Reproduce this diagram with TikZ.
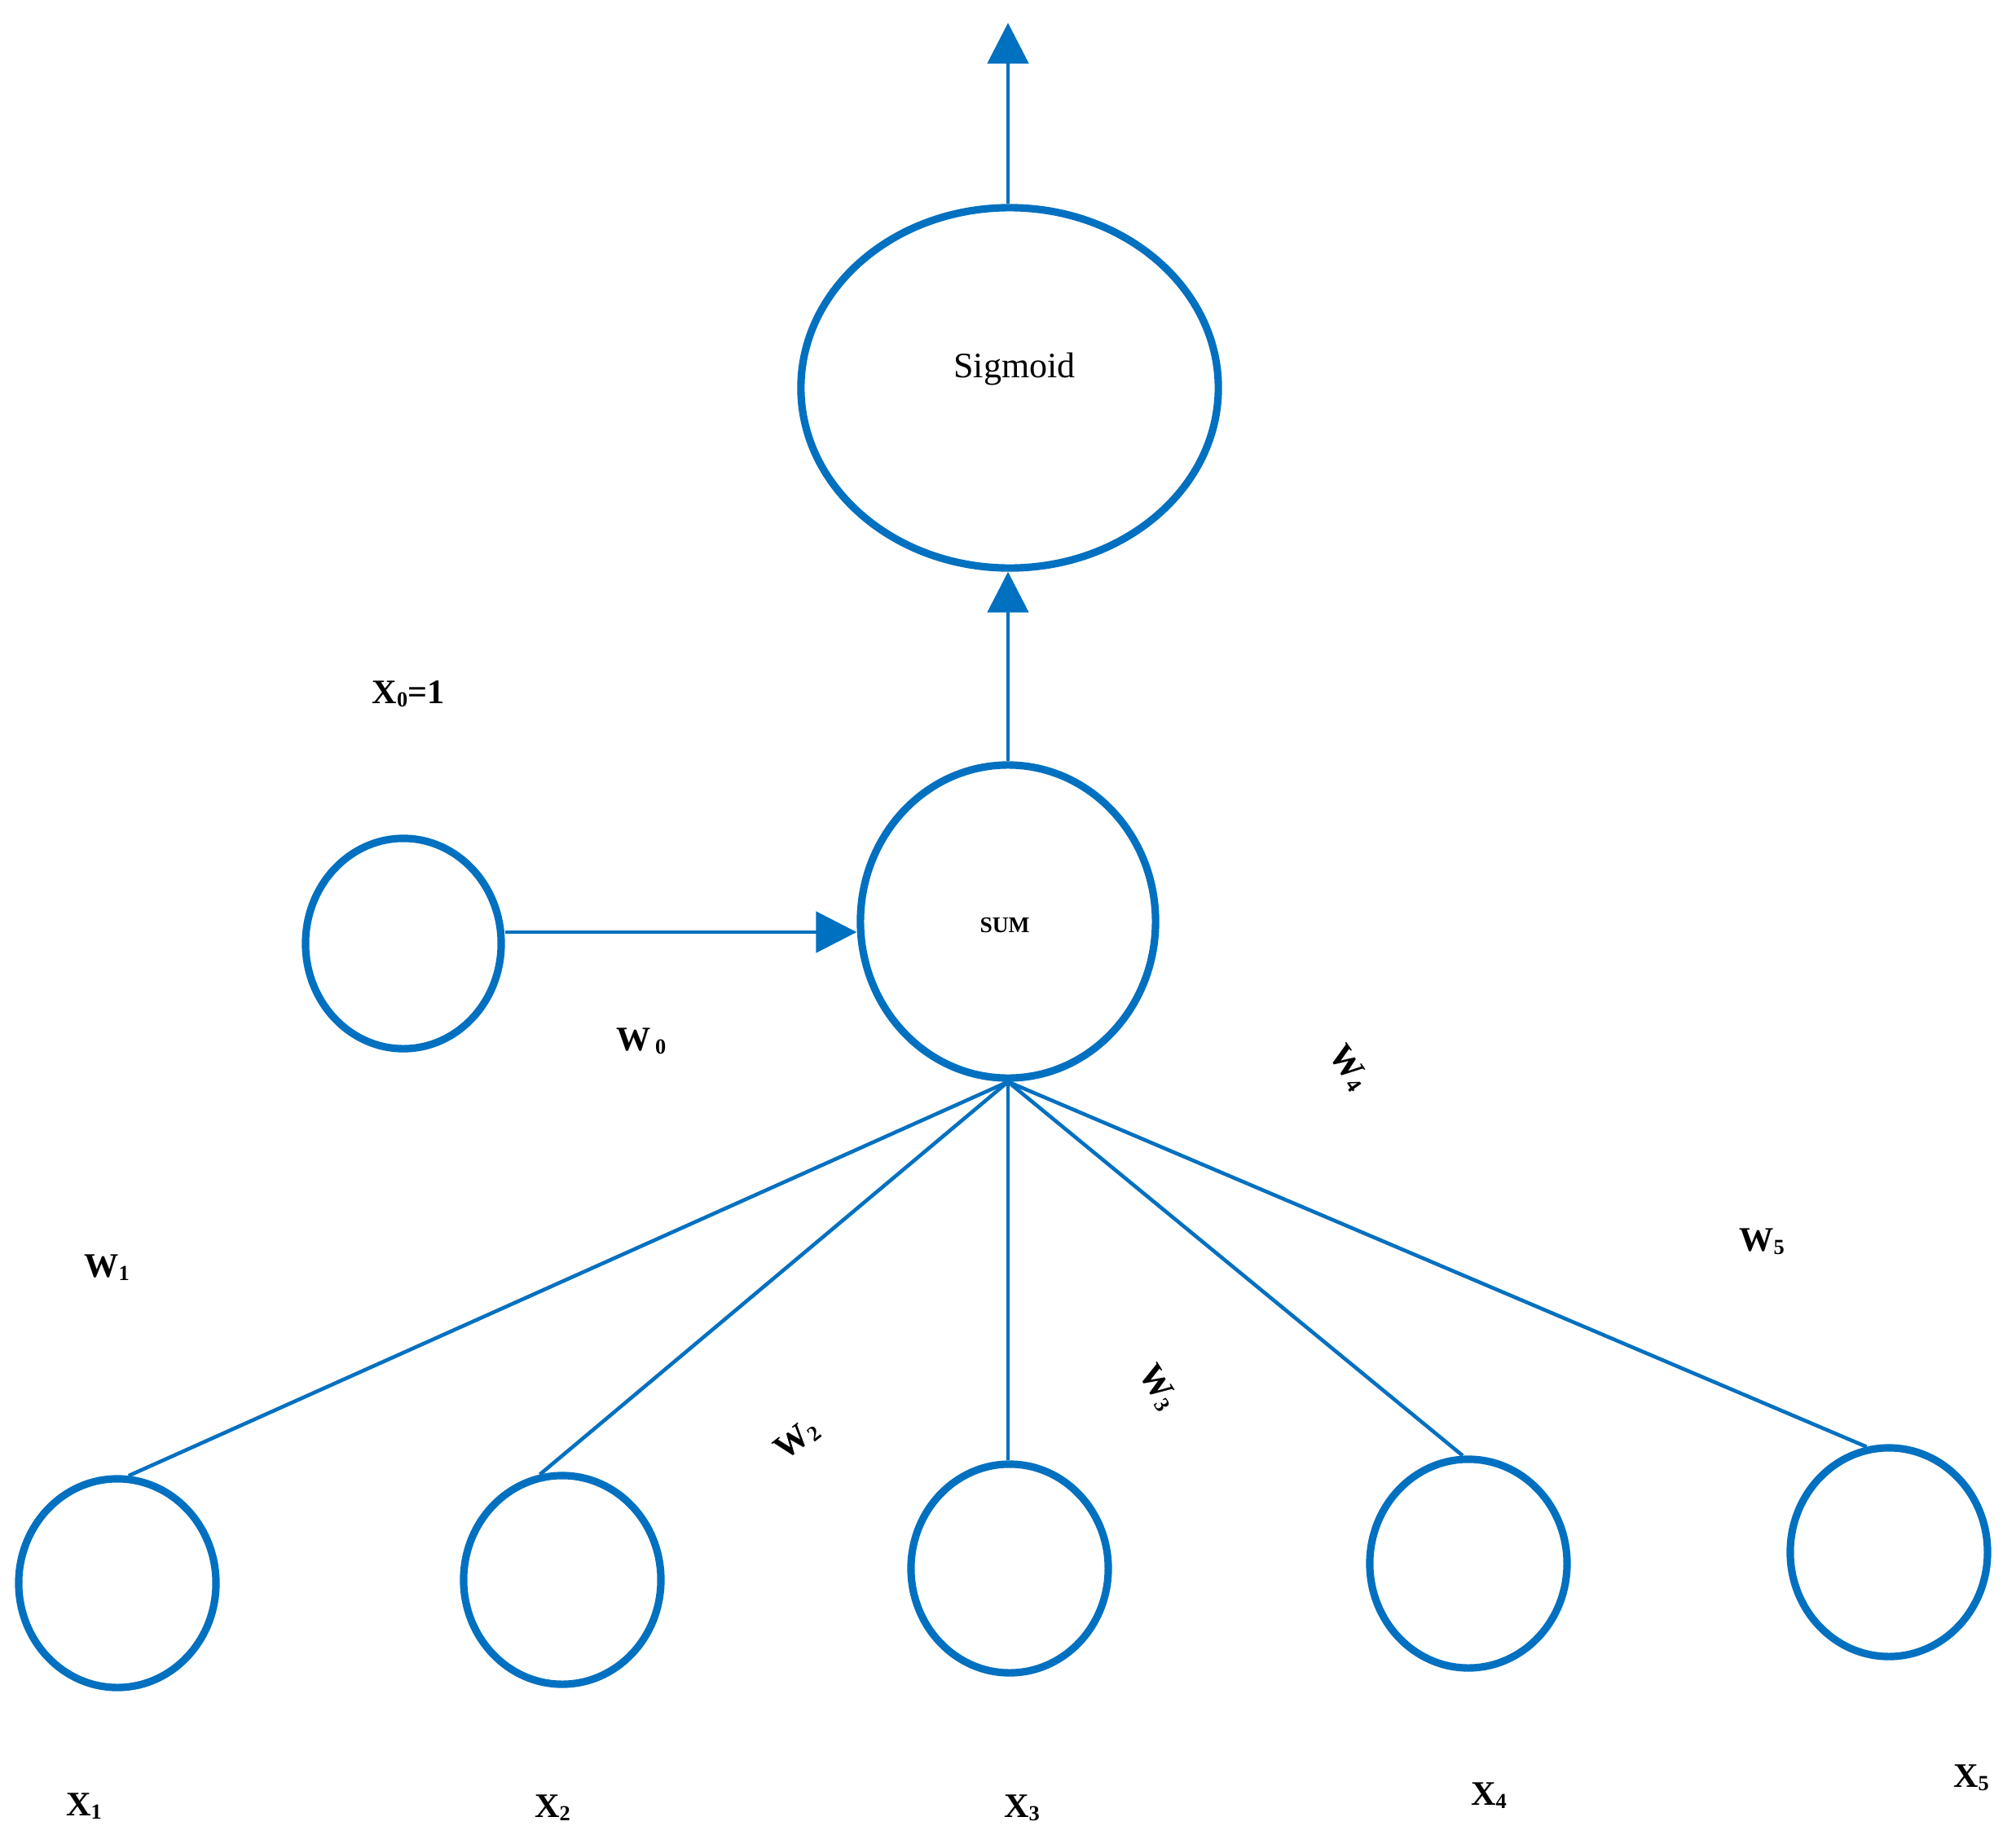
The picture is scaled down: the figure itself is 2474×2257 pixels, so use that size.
\documentclass[tikz,border=0pt]{standalone}
\usepackage{fontspec}
\setmainfont{Liberation Serif}
\usetikzlibrary{shapes.geometric,arrows.meta}
\definecolor{nblue}{RGB}{0,112,192}
\newcommand{\lowsub}[1]{\raisebox{-1.2pt}{\fontsize{7.5}{9}\selectfont #1}}
\tikzset{
  neuron/.style={draw=nblue,line width=2.6pt,ellipse,inner sep=0pt},
  small/.style={neuron,minimum width=2.42cm,minimum height=2.56cm},
  lbl/.style={font=\bfseries\fontsize{12}{14}\selectfont,inner sep=0pt},
  conn/.style={draw=nblue,line width=1.3pt},
  arr/.style={draw=nblue,line width=1.4pt,-{Triangle[length=0.5cm,width=0.5cm]}}
}
\begin{document}
\begin{tikzpicture}[x=0.01cm,y=-0.01cm]
\useasboundingbox (0,0) rectangle (2474,2257);
% nodes
\node[neuron,minimum width=5.12cm,minimum height=4.42cm] (sig) at (1239,476) {};
\node[font=\fontsize{12.5}{14}\selectfont,inner sep=0pt] (sigt) at (1245,453) {Sigmoid};
\node[neuron,minimum width=3.62cm,minimum height=3.84cm] (sum) at (1237,1131) {};
\node[font=\bfseries\fontsize{7.8}{9}\selectfont,inner sep=0pt] (sumt) at (1233,1136) {SUM};
\node[neuron,minimum width=2.40cm,minimum height=2.58cm] (x0) at (495,1158) {};
\node[small] (x1) at (144,1943) {};
\node[small] (x2) at (690,1939) {};
\node[small] (x3) at (1239,1925) {};
\node[small] (x4) at (1802,1919) {};
\node[small] (x5) at (2318,1905) {};
\coordinate (out) at (1237,28);
% connectors
\draw[arr] (sum.north |- sig.north) -- (out);
\draw[arr] (sum.north) -- (sum.north |- sig.south);
\draw[arr] (x0.east |- 0,1144) -- (sum.west |- 0,1144);
\draw[conn] (sum.south) -- (x1.84);
\draw[conn] (sum.south) -- (x2.102);
\draw[conn] (sum.south) -- (sum.south |- x3.north);
\draw[conn] (sum.south) -- (x4.93);
\draw[conn] (sum.south) -- (x5.102);
% labels
\node[lbl] (lx0) at (501,852) {X\lowsub{0}=1};
\node[lbl] (lw0) at (787,1278) {W\kern1.5pt\lowsub{0}};
\node[lbl] (lw1) at (131,1556) {W\lowsub{1}};
\node[lbl,rotate=38] (lw2) at (978,1767) {W\lowsub{2}};
\node[lbl,rotate=-58] (lw3) at (1421,1703) {W\lowsub{3}};
\node[lbl,rotate=-55] (lw4) at (1655,1310) {W\lowsub{4}};
\node[lbl] (lw5) at (2162,1524) {W\lowsub{5}};
\node[lbl] (lx1) at (103,2217) {X\lowsub{1}};
\node[lbl] (lx2) at (678,2219) {X\lowsub{2}};
\node[lbl] (lx3) at (1254,2219) {X\lowsub{3}};
\node[lbl] (lx4) at (1827,2204) {X\lowsub{4}};
\node[lbl] (lx5) at (2419,2182) {X\lowsub{5}};
\end{tikzpicture}
\end{document}
